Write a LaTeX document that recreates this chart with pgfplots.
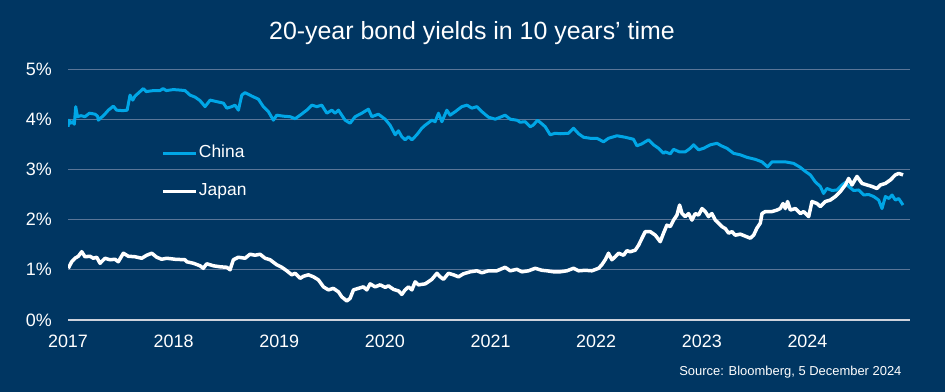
\documentclass[border=0pt]{standalone}
\usepackage{pgfplots}
\pgfplotsset{compat=1.18}
\usepackage{fontspec}
\setmainfont{Liberation Sans}
\definecolor{bg}{RGB}{0,54,98}
\definecolor{china}{RGB}{0,166,230}
\definecolor{gridc}{RGB}{90,118,152}
\definecolor{zeroc}{RGB}{205,210,220}
\begin{document}
\begin{tikzpicture}
\fill[bg] (0bp,0bp) rectangle (945bp,392bp);
\node[text=white, font=\fontsize{25}{30}\selectfont] at (472bp,359bp) {20-year bond yields in 10 years’ time};
\node[anchor=east, text=white, font=\fontsize{13}{16}\selectfont] at (905bp,20bp) {Source: Bloomberg, 5 December 2024};
\begin{axis}[
  at={(68bp,72bp)}, anchor=south west, scale only axis,
  width=842bp, height=251bp,
  xmin=2017, xmax=2024.97, ymin=0, ymax=5,
  axis line style={draw=none}, tick style={draw=none},
  major tick length=0pt,
  xtick={2017,...,2024},
  xticklabels={2017,2018,2019,2020,2021,2022,2023,2024},
  ytick={0,1,2,3,4,5},
  yticklabels={0\%,1\%,2\%,3\%,4\%,5\%},
  xticklabel style={anchor=north, inner sep=0pt, yshift=-15bp, text=white, font=\fontsize{18}{21}\selectfont},
  yticklabel style={anchor=east, inner sep=0pt, xshift=-16bp, text=white, font=\fontsize{18}{21}\selectfont},
  ymajorgrids=true,
  grid style={draw=gridc, line width=0.7bp},
  extra y ticks={0}, extra y tick labels={},
  extra y tick style={grid style={draw=zeroc, line width=2.2bp}},
  legend style={at={(0.111,0.588)}, anchor=west, draw=none, fill=none,
    inner sep=0pt, outer sep=0pt, text=white,
    font=\fontsize{17.5}{21}\selectfont,
    nodes={inner sep=0pt, text height=12.5bp, text depth=4bp},
    row sep=21.5bp,
    /tikz/every odd column/.append style={column sep=1bp}},
  legend cell align=left,
  legend image code/.code={\draw[#1, line width=3.5bp] (0bp,0bp) -- (33bp,0bp);},
  line join=round,
]
\addplot[china, line width=3bp] coordinates {
(2017.000,3.85) (2017.010,3.98) (2017.025,3.92) (2017.040,3.95) (2017.060,3.90)
(2017.073,4.25) (2017.090,4.05) (2017.123,4.07) (2017.161,4.05) (2017.203,4.12)
(2017.256,4.10) (2017.280,4.06) (2017.287,3.98) (2017.340,4.08) (2017.382,4.18)
(2017.429,4.26) (2017.460,4.18) (2017.521,4.17) (2017.560,4.18) (2017.587,4.48)
(2017.613,4.38) (2017.634,4.46) (2017.666,4.52) (2017.713,4.61) (2017.740,4.55)
(2017.808,4.57) (2017.871,4.57) (2017.900,4.61) (2017.930,4.57) (2017.997,4.59)
(2018.061,4.58) (2018.108,4.57) (2018.155,4.48) (2018.203,4.44) (2018.250,4.37)
(2018.297,4.25) (2018.345,4.38) (2018.408,4.35) (2018.471,4.32) (2018.503,4.22)
(2018.550,4.25) (2018.581,4.28) (2018.613,4.18) (2018.645,4.48) (2018.676,4.53)
(2018.740,4.46) (2018.802,4.40) (2018.849,4.25) (2018.897,4.15) (2018.944,3.98)
(2018.976,4.08) (2019.039,4.06) (2019.102,4.05) (2019.150,4.01) (2019.197,4.08)
(2019.260,4.18) (2019.308,4.28) (2019.355,4.25) (2019.402,4.28) (2019.450,4.12)
(2019.497,4.18) (2019.528,4.12) (2019.560,4.18) (2019.623,3.98) (2019.670,3.92)
(2019.718,4.05) (2019.781,4.12) (2019.844,4.20) (2019.876,4.05) (2019.938,4.10)
(2020.002,4.00) (2020.049,3.88) (2020.097,3.69) (2020.128,3.77) (2020.160,3.65)
(2020.191,3.59) (2020.223,3.65) (2020.255,3.59) (2020.302,3.69) (2020.349,3.82)
(2020.381,3.88) (2020.444,3.98) (2020.475,3.95) (2020.507,4.12) (2020.539,3.95)
(2020.586,4.18) (2020.617,4.08) (2020.665,4.15) (2020.728,4.25) (2020.776,4.28)
(2020.823,4.22) (2020.870,4.25) (2020.918,4.15) (2020.980,4.04) (2021.044,4.00)
(2021.091,4.04) (2021.138,4.08) (2021.186,4.00) (2021.249,3.98) (2021.280,3.94)
(2021.328,3.95) (2021.375,3.85) (2021.403,3.88) (2021.444,3.98) (2021.479,3.92)
(2021.517,3.85) (2021.564,3.69) (2021.612,3.72) (2021.659,3.71) (2021.738,3.72)
(2021.785,3.82) (2021.833,3.71) (2021.880,3.64) (2021.943,3.62) (2022.006,3.62)
(2022.069,3.55) (2022.116,3.62) (2022.196,3.67) (2022.275,3.64) (2022.353,3.60)
(2022.385,3.47) (2022.433,3.51) (2022.495,3.59) (2022.542,3.49) (2022.590,3.42)
(2022.637,3.32) (2022.653,3.35) (2022.701,3.31) (2022.732,3.40) (2022.786,3.35)
(2022.843,3.35) (2022.890,3.42) (2022.921,3.49) (2022.969,3.39) (2023.016,3.42)
(2023.080,3.49) (2023.143,3.52) (2023.184,3.47) (2023.238,3.42) (2023.300,3.32)
(2023.364,3.29) (2023.427,3.24) (2023.506,3.20) (2023.569,3.15) (2023.622,3.05)
(2023.664,3.15) (2023.726,3.15) (2023.790,3.15) (2023.868,3.12) (2023.932,3.04)
(2023.979,2.96) (2024.027,2.89) (2024.074,2.75) (2024.121,2.66) (2024.152,2.52)
(2024.184,2.62) (2024.232,2.58) (2024.279,2.59) (2024.326,2.69) (2024.358,2.74)
(2024.389,2.66) (2024.436,2.58) (2024.484,2.59) (2024.531,2.49) (2024.579,2.50)
(2024.626,2.46) (2024.673,2.39) (2024.705,2.22) (2024.737,2.46) (2024.770,2.42)
(2024.800,2.49) (2024.831,2.39) (2024.863,2.42) (2024.904,2.29)
};
\addlegendentry{China}
\addplot[white, line width=3.5bp] coordinates {
(2017.003,1.03) (2017.035,1.16) (2017.066,1.23) (2017.098,1.27) (2017.130,1.36)
(2017.161,1.26) (2017.208,1.27) (2017.240,1.23) (2017.272,1.25) (2017.303,1.13)
(2017.350,1.23) (2017.398,1.20) (2017.445,1.21) (2017.476,1.16) (2017.524,1.33)
(2017.571,1.27) (2017.634,1.26) (2017.698,1.23) (2017.745,1.29) (2017.793,1.33)
(2017.840,1.25) (2017.887,1.21) (2017.935,1.23) (2018.013,1.21) (2018.108,1.20)
(2018.124,1.16) (2018.187,1.13) (2018.250,1.08) (2018.281,1.03) (2018.313,1.12)
(2018.376,1.08) (2018.439,1.06) (2018.503,1.05) (2018.534,1.00) (2018.565,1.20)
(2018.613,1.25) (2018.676,1.23) (2018.723,1.31) (2018.771,1.29) (2018.818,1.31)
(2018.866,1.23) (2018.913,1.20) (2018.976,1.10) (2019.024,1.05) (2019.071,0.98)
(2019.118,0.90) (2019.150,0.93) (2019.197,0.83) (2019.228,0.87) (2019.276,0.90)
(2019.323,0.86) (2019.370,0.80) (2019.418,0.66) (2019.465,0.60) (2019.512,0.63)
(2019.560,0.56) (2019.592,0.46) (2019.639,0.38) (2019.670,0.43) (2019.702,0.60)
(2019.749,0.63) (2019.796,0.66) (2019.828,0.60) (2019.860,0.72) (2019.907,0.66)
(2019.955,0.70) (2020.002,0.65) (2020.033,0.68) (2020.081,0.61) (2020.128,0.58)
(2020.160,0.51) (2020.191,0.60) (2020.223,0.66) (2020.255,0.60) (2020.286,0.76)
(2020.317,0.70) (2020.381,0.72) (2020.410,0.76) (2020.444,0.81) (2020.492,0.93)
(2020.523,0.86) (2020.554,0.81) (2020.601,0.93) (2020.649,0.90) (2020.696,0.86)
(2020.743,0.92) (2020.807,0.96) (2020.870,0.98) (2020.918,0.94) (2020.980,0.98)
(2021.059,0.98) (2021.138,1.05) (2021.186,0.98) (2021.249,1.01) (2021.296,0.96)
(2021.359,0.98) (2021.422,1.03) (2021.486,0.99) (2021.533,0.98) (2021.596,0.96)
(2021.659,0.96) (2021.722,0.98) (2021.785,1.03) (2021.833,0.98) (2021.896,0.99)
(2021.959,0.98) (2022.022,1.03) (2022.053,1.10) (2022.085,1.20) (2022.116,1.33)
(2022.148,1.20) (2022.180,1.26) (2022.211,1.33) (2022.259,1.29) (2022.290,1.38)
(2022.322,1.36) (2022.369,1.39) (2022.401,1.49) (2022.433,1.63) (2022.464,1.76)
(2022.511,1.76) (2022.559,1.69) (2022.606,1.56) (2022.637,1.73) (2022.669,1.89)
(2022.701,1.86) (2022.732,1.99) (2022.764,2.09) (2022.789,2.29) (2022.812,2.12)
(2022.843,2.06) (2022.874,2.12) (2022.906,1.99) (2022.937,2.12) (2022.969,2.09)
(2023.001,2.22) (2023.032,2.16) (2023.063,2.06) (2023.095,2.12) (2023.127,1.99)
(2023.158,1.93) (2023.190,1.86) (2023.222,1.82) (2023.253,1.73) (2023.285,1.76)
(2023.316,1.69) (2023.364,1.71) (2023.411,1.67) (2023.458,1.63) (2023.490,1.69)
(2023.521,1.83) (2023.553,1.93) (2023.569,2.12) (2023.600,2.16) (2023.664,2.16)
(2023.711,2.19) (2023.742,2.22) (2023.768,2.32) (2023.790,2.22) (2023.811,2.36)
(2023.837,2.19) (2023.885,2.22) (2023.932,2.12) (2023.963,2.16) (2024.011,2.06)
(2024.042,2.36) (2024.090,2.32) (2024.121,2.26) (2024.169,2.36) (2024.216,2.39)
(2024.263,2.46) (2024.311,2.56) (2024.358,2.69) (2024.389,2.82) (2024.421,2.69)
(2024.468,2.86) (2024.516,2.72) (2024.563,2.69) (2024.610,2.66) (2024.657,2.62)
(2024.689,2.69) (2024.737,2.72) (2024.784,2.79) (2024.831,2.89) (2024.863,2.92)
(2024.904,2.89)
};
\addlegendentry{Japan}
\end{axis}
\pgfresetboundingbox
\path[use as bounding box] (0bp,0bp) rectangle (945bp,392bp);
\end{tikzpicture}
\end{document}
